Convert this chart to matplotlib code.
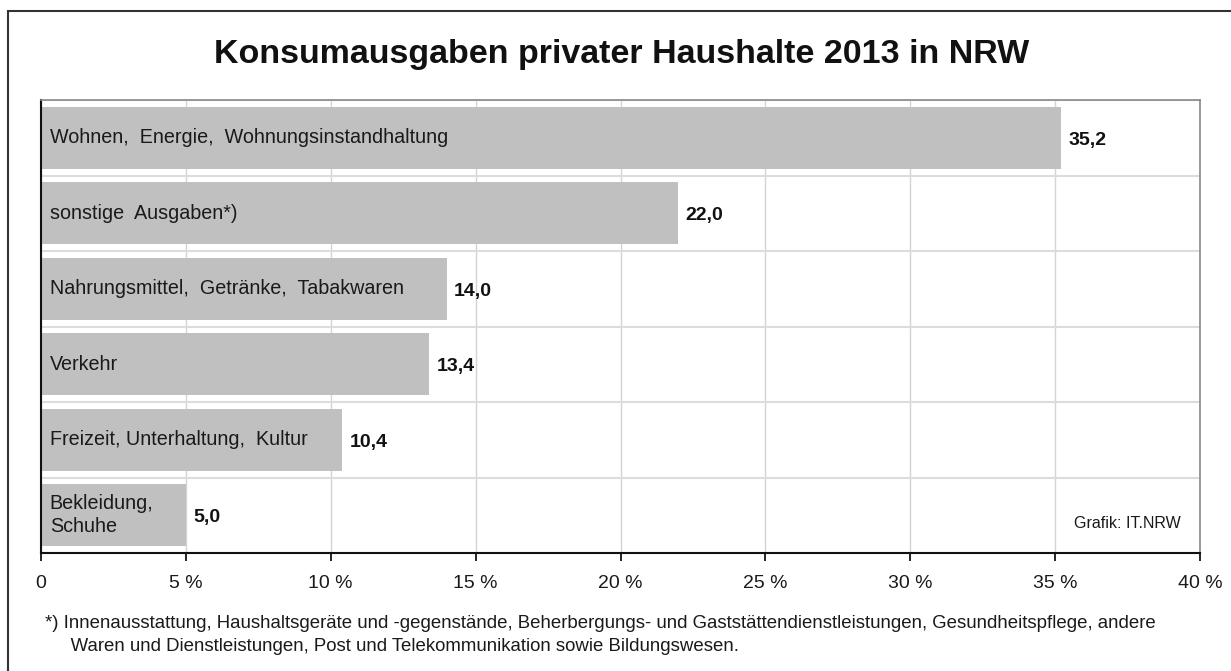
import matplotlib.pyplot as plt
import numpy as np
from matplotlib.patches import Rectangle

categories = [
    'Wohnen,  Energie,  Wohnungsinstandhaltung',
    'sonstige  Ausgaben*)',
    'Nahrungsmittel,  Getränke,  Tabakwaren',
    'Verkehr',
    'Freizeit, Unterhaltung,  Kultur',
    'Bekleidung,\nSchuhe',
]
values = [35.2, 22.0, 14.0, 13.4, 10.4, 5.0]
value_labels = ['35,2', '22,0', '14,0', '13,4', '10,4', '5,0']
xticks = [0, 5, 10, 15, 20, 25, 30, 35, 40]
xtick_labels = ['0', '5 %', '10 %', '15 %', '20 %', '25 %', '30 %', '35 %', '40 %']

title = 'Konsumausgaben privater Haushalte 2013 in NRW'
footnote = ('*) Innenausstattung, Haushaltsgeräte und -gegenstände, Beherbergungs- und '
            'Gaststättendienstleistungen, Gesundheitspflege, andere\n'
            '     Waren und Dienstleistungen, Post und Telekommunikation sowie Bildungswesen.')
credit = 'Grafik: IT.NRW'

plt.rcParams['font.family'] = ['Liberation Sans', 'DejaVu Sans']

fig = plt.figure(figsize=(12.31, 6.71), dpi=100)
fig.patch.set_facecolor('white')

# outer frame (only left/top edges show in the original)
fig.patches.append(Rectangle((8 / 1231, -0.05), 1.1, (671 - 11) / 671 + 0.05,
                             transform=fig.transFigure, fill=False,
                             edgecolor='#333333', linewidth=1.5))

ax = fig.add_axes([41 / 1231, 1 - 553 / 671, (1200 - 41) / 1231, (553 - 100) / 671])

y = np.arange(len(values))
ax.barh(y, values, height=0.82, color='#c0c0c0', zorder=2)

ax.set_xlim(0, 40)
ax.set_ylim(len(values) - 0.5, -0.5)
ax.set_xticks(xticks)
ax.set_xticklabels(xtick_labels, fontsize=14, color='#1a1a1a')
ax.set_yticks([])
ax.set_yticks(np.arange(len(values) + 1) - 0.5, minor=True)
ax.tick_params(axis='y', which='both', length=0)
ax.tick_params(axis='x', length=6, width=1.2, direction='out', pad=10)

ax.grid(axis='x', color='#d4d4d4', linewidth=1, zorder=0)
ax.grid(axis='y', which='minor', color='#dcdcdc', linewidth=1.5, zorder=1)

for side in ['left', 'bottom']:
    ax.spines[side].set_color('#111111')
    ax.spines[side].set_linewidth(1.5)
for side in ['top', 'right']:
    ax.spines[side].set_color('#888888')
    ax.spines[side].set_linewidth(1.2)

for i, (v, cat, lab) in enumerate(zip(values, categories, value_labels)):
    ax.text(0.3, i, cat, va='center', ha='left', fontsize=14.2, color='#1a1a1a',
            linespacing=1.3, zorder=3)
    ax.text(v + 0.25, i + 0.03, lab, va='center', ha='left', fontsize=14,
            fontweight='bold', color='#111111', zorder=3)

ax.text(0.983, 0.065, credit, transform=ax.transAxes, ha='right', va='center',
        fontsize=11.5, color='#1a1a1a')

fig.text(622 / 1231, 1 - 55 / 671, title, ha='center', va='center',
         fontsize=24.5, fontweight='bold', color='#111111')
fig.text(45 / 1231, 1 - 635 / 671, footnote, ha='left', va='center',
         fontsize=13.4, color='#1a1a1a', linespacing=1.45)

fig.savefig('out.png', dpi=100, facecolor='white')
